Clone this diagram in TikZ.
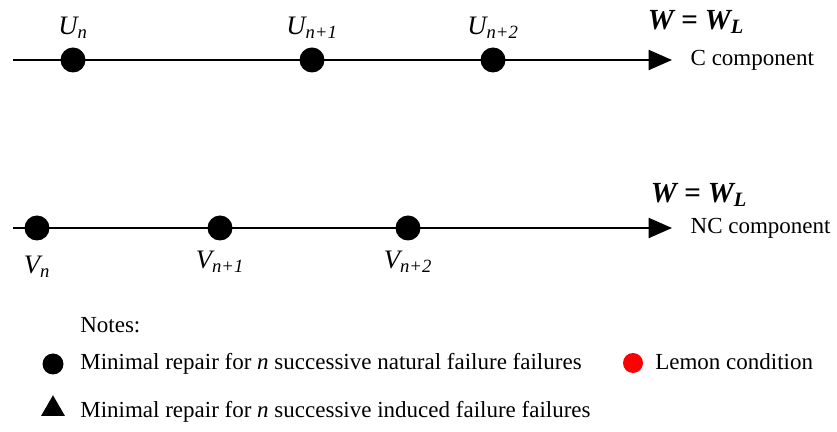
\documentclass[tikz,border=0pt]{standalone}
\usepackage{fontspec}
\setmainfont{Liberation Serif}
\usetikzlibrary{arrows.meta, positioning, shapes.geometric}

\begin{document}
\begin{tikzpicture}[
  x=0.6pt, y=-0.6pt,
  font=\fontsize{13.8}{16}\selectfont,
  dot/.style={circle, fill=black, inner sep=0pt, minimum size=15pt},
  arr/.style={-{Triangle[length=14pt, width=12pt]}, line width=1.2pt},
  lbl/.style={font=\fontsize{16}{18}\selectfont\itshape, inner sep=0pt},
  wlbl/.style={font=\fontsize{17.5}{20}\selectfont\bfseries\itshape, inner sep=0pt},
  comp/.style={anchor=west, inner sep=0pt},
  note/.style={anchor=west, inner sep=0pt}
]
\useasboundingbox (0,0) rectangle (837,432);

% C component
\coordinate (cstart) at (13,60);
\coordinate (cend) at (672,60);
\draw[arr] (cstart) -- (cend);
\node[dot] (u0) at (73,60) {};
\node[dot] (u1) at (312,60) {};
\node[dot] (u2) at (493,60) {};
\node[lbl, above=5pt of u0] (lu0) {U\textsubscript{n}};
\node[lbl, above=5pt of u1] (lu1) {U\textsubscript{n+1}};
\node[lbl, above=5pt of u2] (lu2) {U\textsubscript{n+2}};
\node[comp, right=11pt of cend] (ccomp) {C component};
\node[wlbl] (cw) at (696,22) {W = W\textsubscript{L}};

% NC component
\coordinate (vstart) at (13,228);
\coordinate (vend) at (672,228);
\draw[arr] (vstart) -- (vend);
\node[dot] (v0) at (37,228) {};
\node[dot] (v1) at (220,228) {};
\node[dot] (v2) at (408,228) {};
\node[lbl, below=9pt of v0] (lv0) {V\textsubscript{n}};
\node[lbl, below=6pt of v1] (lv1) {V\textsubscript{n+1}};
\node[lbl, below=6pt of v2] (lv2) {V\textsubscript{n+2}};
\node[comp, right=11pt of vend] (nccomp) {NC component};
\node[wlbl] (vw) at (699,195) {W = W\textsubscript{L}};

% notes
\node[note] (notes) at (80,325) {Notes:};
\node[dot, minimum size=12.6pt] (kdot) at (53,364) {};
\node[note] (knat) at (80,364) {Minimal repair for \textit{n} successive natural failure failures};
\node[dot, fill=red, minimum size=12pt] (kred) at (633,363) {};
\node[note] (klem) at (655,362) {Lemon condition};
\node[regular polygon, regular polygon sides=3, fill=black, inner sep=0pt, minimum size=16.5pt] (ktri) at (53,409) {};
\node[note] (kind) at (80,412) {Minimal repair for \textit{n} successive induced failure failures};
\end{tikzpicture}
\end{document}
